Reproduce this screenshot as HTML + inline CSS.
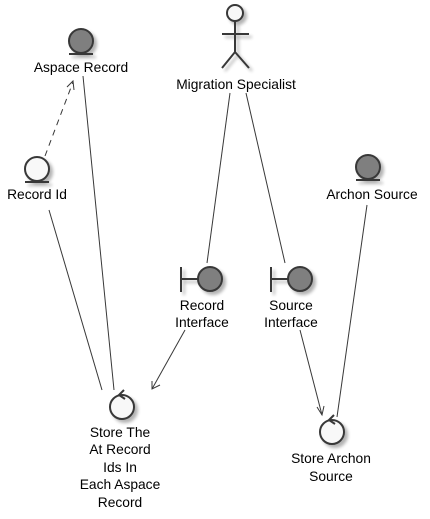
<!DOCTYPE html>
<html><head><style>html,body{margin:0;padding:0;background:#fff}svg{display:block}</style></head>
<body>
<svg width="430" height="519" viewBox="0 0 430 519" xmlns="http://www.w3.org/2000/svg" font-family="Liberation Sans, sans-serif" font-size="13.8" fill="#000">
<defs>
<filter id="sh" x="-50%" y="-50%" width="200%" height="200%"><feGaussianBlur in="SourceAlpha" stdDeviation="1.5"/><feOffset dx="3" dy="3"/><feComponentTransfer><feFuncA type="linear" slope="0.3"/></feComponentTransfer><feMerge><feMergeNode/><feMergeNode in="SourceGraphic"/></feMerge></filter>
</defs>
<g stroke="#383838" fill="none" stroke-width="1">
<line x1="45" y1="156" x2="73" y2="82" stroke-dasharray="6,5"/>
<polyline points="67,87 73,81 74,90"/>
<line x1="83" y1="76" x2="114" y2="390"/>
<line x1="49" y1="210" x2="102" y2="390"/>
<line x1="230" y1="93" x2="207" y2="263"/>
<line x1="246" y1="93" x2="285" y2="263"/>
<line x1="185" y1="330" x2="152" y2="389"/>
<polyline points="152,381 152,389 160,385"/>
<line x1="300" y1="330" x2="322" y2="415"/>
<polyline points="317,407 322,415 324,406"/>
<line x1="367" y1="205" x2="337" y2="417"/>
</g>
<g stroke="#383838" stroke-width="2" filter="url(#sh)">
<circle cx="81" cy="41" r="12" fill="#7f7f7f"/><line x1="69" y1="54" x2="93" y2="54"/>
<circle cx="37" cy="169" r="12" fill="#f8f8f8"/><line x1="25" y1="182" x2="49" y2="182"/>
<circle cx="368" cy="167" r="12" fill="#7f7f7f"/><line x1="356" y1="180" x2="380" y2="180"/>
<line x1="181" y1="267" x2="181" y2="292"/><line x1="181" y1="279" x2="198" y2="279"/><circle cx="210" cy="279" r="12" fill="#7f7f7f"/>
<line x1="271" y1="267" x2="271" y2="292"/><line x1="271" y1="279" x2="288" y2="279"/><circle cx="300" cy="279" r="12" fill="#7f7f7f"/>
<circle cx="122" cy="407" r="12" fill="#f8f8f8"/>
<circle cx="332" cy="432" r="12" fill="#f8f8f8"/>
<g fill="none"><circle cx="235" cy="13" r="8" fill="#f8f8f8"/><line x1="235" y1="21" x2="235" y2="52"/><line x1="222" y1="34" x2="249" y2="34"/><polyline points="222,68 235,52 249,68"/></g>
</g>
<g stroke="#383838" stroke-width="2" fill="none">
<polyline points="124,390 119,395 125,399"/>
<polyline points="334,415 329,420 335,424"/>
</g>
<g text-anchor="middle">
<text x="81" y="72">Aspace Record</text>
<text x="236" y="89">Migration Specialist</text>
<text x="37" y="199">Record Id</text>
<text x="372" y="199">Archon Source</text>
<text x="202" y="310">Record</text><text x="202" y="327">Interface</text>
<text x="291" y="310">Source</text><text x="291" y="327">Interface</text>
<text x="120" y="437">Store The</text><text x="120" y="454">At Record</text><text x="120" y="472">Ids In</text><text x="120" y="489">Each Aspace</text><text x="120" y="507">Record</text>
<text x="331" y="463">Store Archon</text><text x="331" y="481">Source</text>
</g>
</svg>
</body></html>
